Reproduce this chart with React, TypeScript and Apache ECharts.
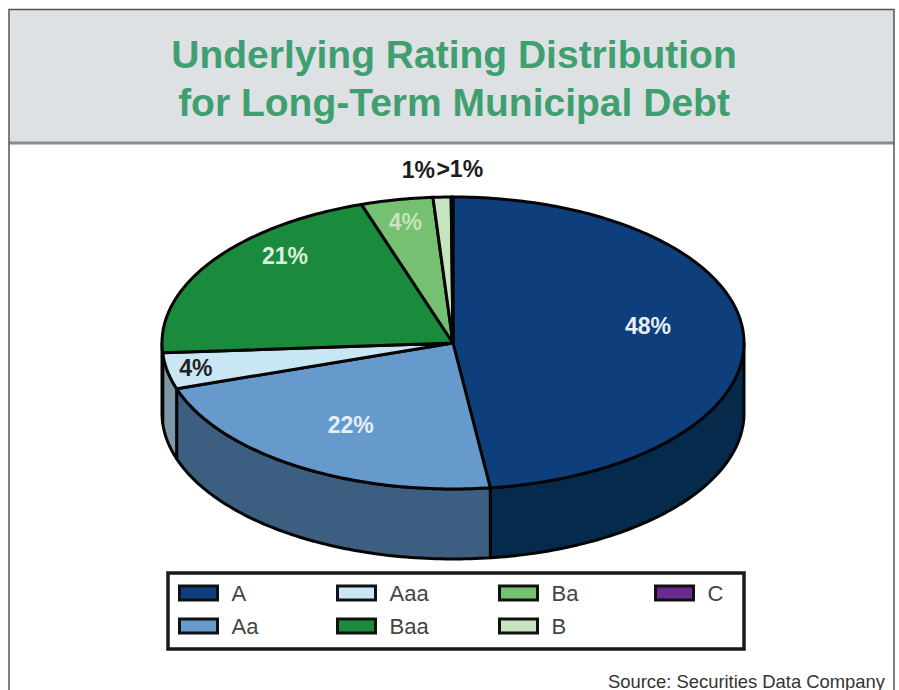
import React, { useEffect, useRef } from "react";
import * as echarts from "echarts";

const TITLE = "Underlying Rating Distribution\nfor Long-Term Municipal Debt";
const SOURCE = "Source: Securities Data Company";
const CATEGORIES = ["A", "Aa", "Aaa", "Baa", "Ba", "B", "C"];
const VALUES = [48, 22, 4, 21, 4, 1, 0.1];
const VALUE_LABELS = ["48%", "22%", "4%", "21%", "4%", "1%", ">1%"];
const TOP_COLORS = ["#0e3f7c", "#6699cc", "#c9e6f5", "#1a8a3c", "#76c072", "#c7e4c0", "#6b2a8e"];
const WALL_COLORS = ["#062a4c", "#3c5e80", "#7e97a8", "#0e5a28", "#4d8a4a", "#8fb089", "#45195e"];
const LABEL_COLORS = ["#e6eef6", "#e3eef8", "#222222", "#dcefdc", "#c4e3bc", "#1c1c1c", "#1c1c1c"];
// label placement: radial fraction of the ellipse and angle shift from the slice's mid-angle
const LABEL_R = [0.68, 0.66, 0.9, 0.83, 0.845, 1.19, 1.19];
const LABEL_SHIFT = [-6, 0, 0, 12, 0, -3.6, 1.3];
const LEGEND_COLUMNS = [["A", "Aa"], ["Aaa", "Baa"], ["Ba", "B"], ["C"]];
const LEGEND_LEFT = [173, 331, 493, 649];

const CX = 453;
const CY = 343;
const RX = 291;
const RY = 146;
const DEPTH = 70;
const FONT = '"Liberation Sans", Arial, sans-serif';

const total = VALUES.reduce((a, b) => a + b, 0);
const startOf = (i: number) => (VALUES.slice(0, i).reduce((a, b) => a + b, 0) / total) * 360;

const px = (deg: number) => CX + RX * Math.sin((deg * Math.PI) / 180);
const py = (deg: number, dy = 0) => CY - RY * Math.cos((deg * Math.PI) / 180) + dy;

function arcPoints(a0: number, a1: number, dy = 0) {
  const n = Math.max(2, Math.ceil(a1 - a0) + 1);
  const pts: number[][] = [];
  for (let k = 0; k <= n; k++) {
    const a = a0 + ((a1 - a0) * k) / n;
    pts.push([px(a), py(a, dy)]);
  }
  return pts;
}

function makeSeries(i: number) {
  return {
    type: "custom",
    name: CATEGORIES[i],
    coordinateSystem: "none",
    silent: true,
    z: 3,
    itemStyle: { color: TOP_COLORS[i] },
    data: [[VALUES[i]]],
    renderItem: (_: any, api: any) => {
      const a0 = startOf(i);
      const a1 = a0 + (api.value(0) / total) * 360;
      const children: any[] = [];
      const w0 = Math.max(a0, 90);
      const w1 = Math.min(a1, 270);
      if (w1 > w0) {
        children.push({
          type: "polygon",
          shape: { points: [...arcPoints(w0, w1), ...arcPoints(w0, w1, DEPTH).reverse()] },
          style: { fill: WALL_COLORS[i], stroke: "#050505", lineWidth: 3, lineJoin: "round" },
        });
      }
      children.push({
        type: "polygon",
        shape: { points: [[CX, CY], ...arcPoints(a0, a1)] },
        style: { fill: TOP_COLORS[i], stroke: "#050505", lineWidth: 3, lineJoin: "round" },
      });
      const mid = (a0 + a1) / 2 + LABEL_SHIFT[i];
      const rad = (mid * Math.PI) / 180;
      children.push({
        type: "text",
        z2: 10,
        style: {
          text: VALUE_LABELS[i],
          x: CX + RX * LABEL_R[i] * Math.sin(rad),
          y: CY - RY * LABEL_R[i] * Math.cos(rad),
          align: "center",
          verticalAlign: "middle",
          fill: LABEL_COLORS[i],
          font: `bold 23px ${FONT}`,
        },
      });
      return { type: "group", children };
    },
  };
}

export default function App() {
  const ref = useRef<HTMLDivElement>(null);
  useEffect(() => {
    document.body.style.margin = "0";
    const chart = echarts.init(ref.current!, null, { renderer: "svg" });
    chart.setOption({
      animation: false,
      backgroundColor: "#ffffff",
      title: [
        {
          text: TITLE,
          left: 449,
          top: 25,
          textAlign: "center",
          textStyle: {
            fontFamily: FONT,
            fontWeight: "bold",
            fontSize: 39,
            lineHeight: 48,
            color: "#3f9f70",
          },
        },
        {
          text: SOURCE,
          right: 14,
          top: 672,
          padding: 0,
          textStyle: { fontFamily: FONT, fontWeight: "normal", fontSize: 18.4, color: "#333333" },
        },
      ],
      legend: LEGEND_COLUMNS.map((names, c) => ({
        orient: "vertical",
        left: LEGEND_LEFT[c],
        top: 577,
        itemWidth: 38,
        itemHeight: 14,
        itemGap: 11,
        selectedMode: false,
        icon: "rect",
        data: names.map((n) => ({
          name: n,
          icon: "rect",
          itemStyle: {
            color: TOP_COLORS[CATEGORIES.indexOf(n)],
            borderColor: "#111111",
            borderWidth: 3,
          },
        })),
        textStyle: {
          fontFamily: FONT,
          fontSize: 22,
          color: "#444444",
          padding: [0, 0, 0, 9],
        },
      })),
      graphic: [
        {
          type: "rect",
          z: 0,
          shape: { x: 9, y: 10, width: 885, height: 133 },
          style: { fill: "#dde1e4" },
        },
        {
          type: "line",
          z: 1,
          shape: { x1: 9, y1: 143, x2: 894, y2: 143 },
          style: { stroke: "#8c8a8c", lineWidth: 3 },
        },
        {
          type: "polyline",
          z: 2,
          shape: { points: [[9, 690], [9, 9.5], [894, 9.5], [894, 690]] },
          style: { fill: "none", stroke: "#555555", lineWidth: 1.5 },
        },
        {
          type: "rect",
          z: 2,
          shape: { x: 168, y: 573, width: 576, height: 76 },
          style: { fill: "none", stroke: "#1a1a1a", lineWidth: 3.5 },
        },
      ],
      series: CATEGORIES.map((_, i) => makeSeries(i)),
    });
    return () => chart.dispose();
  }, []);
  return <div ref={ref} style={{ width: 899, height: 690 }} />;
}
